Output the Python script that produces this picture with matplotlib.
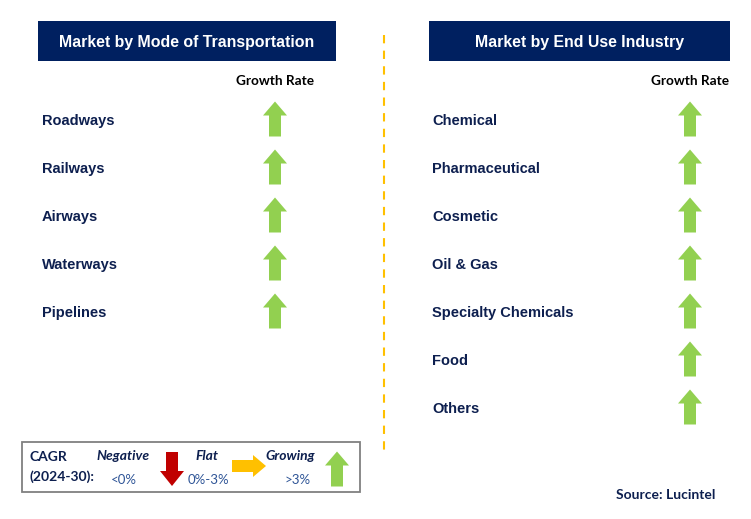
import matplotlib
matplotlib.use("Agg")
import matplotlib.pyplot as plt
from matplotlib.patches import FancyArrow, Rectangle

# ---- data ----
left_title = "Market by Mode of Transportation"
right_title = "Market by End Use Industry"
left_categories = ["Roadways", "Railways", "Airways", "Waterways", "Pipelines"]
left_growth = ["growing", "growing", "growing", "growing", "growing"]
right_categories = ["Chemical", "Pharmaceutical", "Cosmetic", "Oil & Gas",
                    "Specialty Chemicals", "Food", "Others"]
right_growth = ["growing"] * 7
column_label = "Growth Rate"
legend_labels = ["Negative", "Flat", "Growing"]
legend_ranges = ["<0%", "0%-3%", ">3%"]
cagr_label = ["CAGR", "(2024-30):"]
source = "Source: Lucintel"

NAVY = "#002060"
TEXT = "#0D1F4F"
GREEN = "#92D050"
RED = "#C00000"
YELLOW = "#FFC000"
BLUE = "#2F5597"

W, H = 751, 519
fig = plt.figure(figsize=(W / 100, H / 100), dpi=100)
ax = fig.add_axes([0, 0, 1, 1])
ax.set_xlim(0, W)
ax.set_ylim(H, 0)
ax.axis("off")

HEAD = "Liberation Sans"
BODY = "Lato"


def up_arrow(x, yc, color, h=35, w=24, sw=12, hl=14):
    ax.add_patch(FancyArrow(x, yc + h / 2, 0, -h, width=sw, head_width=w,
                            head_length=hl, length_includes_head=True,
                            color=color, lw=0))


def down_arrow(x, yc, color, h=34, w=24, sw=12, hl=15):
    ax.add_patch(FancyArrow(x, yc - h / 2, 0, h, width=sw, head_width=w,
                            head_length=hl, length_includes_head=True,
                            color=color, lw=0))


def right_arrow(xc, y, color, L=34, w=22, sw=12, hl=13):
    ax.add_patch(FancyArrow(xc - L / 2, y, L, 0, width=sw, head_width=w,
                            head_length=hl, length_includes_head=True,
                            color=color, lw=0))


def panel(x0, x1, title, cats, growth, arrow_x, text_x):
    ax.add_patch(Rectangle((x0, 21), x1 - x0, 40, color=NAVY, lw=0))
    ax.text((x0 + x1) / 2, 42, title, color="white", fontsize=11.4,
            fontweight="bold", family=HEAD, ha="center", va="center")
    ax.text(arrow_x, 81, column_label, color="black", fontsize=9.8,
            fontweight="bold", family=BODY, ha="center", va="center")
    for i, (c, g) in enumerate(zip(cats, growth)):
        y = 120 + 48 * i
        ax.text(text_x, y + 1, c, color=TEXT, fontsize=10.5, fontweight="bold",
                family=HEAD, ha="left", va="center")
        if g == "growing":
            up_arrow(arrow_x, y - 1, GREEN)
        elif g == "negative":
            down_arrow(arrow_x, y - 1, RED)
        else:
            right_arrow(arrow_x, y - 1, YELLOW)


panel(38, 336, left_title, left_categories, left_growth, 275, 42)
panel(429, 730, right_title, right_categories, right_growth, 690, 432)

# dashed divider
ax.plot([384, 384], [35, 450], color=YELLOW, lw=1.5, ls=(0, (4, 3.5)))

# legend box
ax.add_patch(Rectangle((22, 442), 338, 50, fill=False, ec="#808080", lw=1.3))
ax.text(30, 457, cagr_label[0], color=TEXT, fontsize=10, fontweight="bold",
        family=BODY, ha="left", va="center")
ax.text(30, 477, cagr_label[1], color=TEXT, fontsize=10, fontweight="bold",
        family=BODY, ha="left", va="center")
label_x = [123, 207, 290]
range_x = [124, 208, 298]
for lab, lx, rng, rx in zip(legend_labels, label_x, legend_ranges, range_x):
    ax.text(lx, 456, lab, color=TEXT, fontsize=10, fontweight="bold",
            style="italic", family=BODY, ha="center", va="center")
    ax.text(rx, 480, rng, color=BLUE, fontsize=9.5, family=BODY,
            ha="center", va="center")
down_arrow(172, 469, RED)
right_arrow(249, 466, YELLOW)
up_arrow(337, 469, GREEN)

ax.text(715, 495, source, color=TEXT, fontsize=10, fontweight="bold",
        family=BODY, ha="right", va="center")

fig.savefig("out.png", dpi=100)
